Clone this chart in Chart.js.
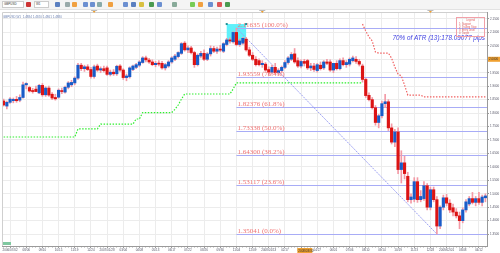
<!DOCTYPE html>
<html>
<head>
<meta charset="utf-8">
<script src="https://cdn.jsdelivr.net/npm/chart.js@4.4.1/dist/chart.umd.min.js"></script>
<style>
  html, body { margin: 0; padding: 0; background: #fff; }
  #wrap { position: relative; width: 500px; height: 253px; overflow: hidden; font-family: "Liberation Sans", Arial, sans-serif; }
  canvas { position: absolute; left: 0; top: 0; }
  #bar { position: absolute; left: 0; top: 0; width: 500px; height: 9px; background: #f4f4f4; border-bottom: 1px solid #e2e2e2; }
  #bar span { position: absolute; top: 2px; height: 5px; width: 5px; border-radius: 1px; }
  #bar .dd { background: #fff; border: 1px solid #ccc; top: 1px; height: 5px; font-size: 3px; line-height: 5px; color: #333; padding-left: 1px; border-radius: 0; }
</style>
</head>
<body>
<div id="wrap">
  <canvas id="chart" width="500" height="253"></canvas>
  <div id="bar">
    <span class="dd" style="left:2px;width:19px">GBPUSD</span>
    <span style="left:26px;background:#c33"></span>
    <span class="dd" style="left:34px;width:12px">W1</span>
    <span style="left:55px;background:#5a7fc0"></span>
    <span style="left:65px;background:#9aa"></span>
    <span style="left:72px;background:#f0a040"></span>
    <span style="left:83px;background:#6b8fd0"></span>
    <span style="left:90px;background:#6b8fd0"></span>
    <span style="left:97px;background:#8aa"></span>
    <span style="left:108px;background:#f0a040"></span>
    <span style="left:123px;background:#6b8fd0"></span>
    <span style="left:131px;background:#5a7fc0"></span>
    <span style="left:139px;background:#d8c040"></span>
    <span style="left:149px;background:#4a9a50"></span>
    <span style="left:157px;background:#6b8fd0"></span>
    <span style="left:172px;background:#8a9"></span>
    <span style="left:190px;background:#7c5"></span>
    <span style="left:198px;background:#f0a040"></span>
    <span style="left:208px;background:#6b8fd0"></span>
    <span style="left:217px;background:#d55"></span>
    <span style="left:225px;background:#4a9a50"></span>
  </div>
</div>
<script>
// weekly GBPUSD candles
const candleOpen = [
  1.845,1.826,1.840,1.846,1.851,1.848,1.858,1.905,1.895,1.884,
  1.889,1.875,1.903,1.868,1.893,1.870,1.858,1.859,1.883,1.878,
  1.896,1.905,1.912,1.930,1.978,1.965,1.972,1.962,1.936,1.975,
  1.960,1.965,1.968,1.944,1.952,1.946,1.975,1.960,1.932,1.935,
  1.962,1.970,1.978,1.988,2.005,1.997,1.990,1.980,1.985,1.985,
  1.968,1.975,1.990,2.000,2.010,2.022,2.060,2.035,2.042,2.025,
  1.980,2.012,2.022,2.000,2.020,2.040,2.030,2.038,2.030,2.055,
  2.072,2.065,2.100,2.055,2.060,2.075,2.035,2.015,2.000,1.995,
  1.980,1.982,1.962,1.952,1.970,1.950,1.958,1.970,1.988,2.000,
  2.020,1.995,1.975,1.992,1.995,1.968,1.975,1.958,1.978,1.968,
  1.990,1.990,1.960,1.985,1.965,1.995,1.980,1.982,1.995,2.000,
  1.992,1.975,1.925,1.866,1.850,1.820,1.765,1.790,1.835,1.842,
  1.745,1.692,1.730,1.590,1.615,1.565,1.478,1.480,1.545,1.478,
  1.482,1.530,1.450,1.515,1.478,1.380,1.450,1.485,1.465,1.448,
  1.432,1.418,1.400,1.440,1.462,1.482,1.468,1.482,1.468,1.485
];
const candleHigh = [
  1.852,1.845,1.858,1.856,1.862,1.868,1.915,1.913,1.900,1.892,
  1.900,1.907,1.910,1.898,1.900,1.876,1.870,1.890,1.893,1.900,
  1.917,1.922,1.935,1.985,1.985,1.978,1.980,1.970,1.978,1.982,
  1.972,1.975,1.975,1.960,1.962,1.978,1.980,1.965,1.945,1.972,
  1.978,1.985,1.995,2.010,2.012,2.004,1.998,1.992,1.995,1.992,
  1.985,1.995,2.010,2.018,2.028,2.062,2.066,2.050,2.048,2.030,
  2.020,2.030,2.035,2.025,2.050,2.048,2.045,2.052,2.062,2.078,
  2.080,2.102,2.11635,2.075,2.082,2.082,2.045,2.025,2.010,2.002,
  1.995,1.988,1.972,1.978,1.985,1.965,1.975,1.995,2.010,2.025,
  2.040,2.005,1.998,2.000,2.000,1.985,1.985,1.985,1.990,1.995,
  2.000,1.998,1.985,1.995,2.002,2.005,1.995,2.005,2.012,2.010,
  2.000,1.982,1.930,1.875,1.858,1.828,1.795,1.845,1.870,1.850,
  1.760,1.740,1.745,1.660,1.640,1.580,1.500,1.560,1.560,1.512,
  1.545,1.538,1.525,1.525,1.490,1.455,1.495,1.498,1.478,1.462,
  1.445,1.432,1.448,1.478,1.490,1.505,1.490,1.505,1.495,1.500
];
const candleLow = [
  1.826,1.815,1.836,1.838,1.840,1.842,1.855,1.890,1.878,1.874,
  1.880,1.872,1.862,1.862,1.862,1.850,1.848,1.855,1.872,1.874,
  1.890,1.898,1.905,1.925,1.958,1.955,1.958,1.930,1.930,1.955,
  1.950,1.952,1.940,1.938,1.940,1.940,1.955,1.925,1.920,1.930,
  1.958,1.965,1.972,1.985,1.990,1.985,1.976,1.972,1.975,1.963,
  1.960,1.970,1.985,1.995,2.005,2.018,2.030,2.025,2.020,1.970,
  1.975,2.005,1.995,1.995,2.012,2.025,2.022,2.028,2.025,2.050,
  2.060,2.060,2.050,2.048,2.055,2.030,2.010,1.995,1.975,1.975,
  1.970,1.955,1.940,1.945,1.945,1.940,1.950,1.965,1.982,1.995,
  1.985,1.970,1.968,1.975,1.962,1.958,1.955,1.952,1.960,1.962,
  1.980,1.955,1.950,1.960,1.960,1.975,1.970,1.975,1.990,1.985,
  1.975,1.915,1.858,1.845,1.815,1.755,1.745,1.782,1.820,1.735,
  1.685,1.675,1.575,1.540,1.555,1.470,1.465,1.470,1.468,1.470,
  1.475,1.440,1.440,1.470,1.35041,1.370,1.440,1.455,1.430,1.418,
  1.410,1.370,1.392,1.432,1.455,1.462,1.455,1.460,1.455,1.470
];
const candleClose = [
  1.830,1.840,1.852,1.851,1.846,1.858,1.905,1.910,1.882,1.880,
  1.880,1.903,1.868,1.893,1.867,1.856,1.853,1.885,1.880,1.896,
  1.912,1.914,1.930,1.978,1.965,1.972,1.962,1.936,1.972,1.960,
  1.965,1.958,1.944,1.952,1.946,1.974,1.960,1.932,1.938,1.968,
  1.975,1.980,1.990,2.005,1.998,1.990,1.980,1.985,1.982,1.968,
  1.980,1.990,2.005,2.012,2.025,2.058,2.035,2.042,2.025,1.980,
  2.015,2.022,2.000,2.020,2.040,2.030,2.038,2.034,2.058,2.072,
  2.068,2.100,2.055,2.068,2.078,2.035,2.015,2.000,1.980,1.980,
  1.985,1.960,1.952,1.970,1.950,1.958,1.970,1.988,2.005,2.018,
  1.990,1.975,1.992,1.985,1.968,1.975,1.962,1.980,1.965,1.990,
  1.985,1.960,1.985,1.965,1.995,1.980,1.988,2.000,2.005,1.992,
  1.982,1.925,1.865,1.850,1.820,1.765,1.790,1.835,1.842,1.745,
  1.692,1.730,1.590,1.615,1.575,1.478,1.488,1.545,1.478,1.490,
  1.530,1.450,1.515,1.478,1.380,1.450,1.485,1.465,1.440,1.432,
  1.418,1.400,1.440,1.470,1.482,1.468,1.482,1.468,1.488,1.492
];

// green support line (ends where price breaks it)
const supportLine = [
  1.711,1.711,1.711,1.711,1.711,1.711,1.711,1.711,1.711,1.711,
  1.711,1.711,1.711,1.711,1.711,1.711,1.711,1.711,1.711,1.711,
  1.711,1.711,1.711,1.741,1.741,1.741,1.741,1.741,1.741,1.741,
  1.759,1.759,1.759,1.759,1.759,1.759,1.759,1.759,1.759,1.759,
  1.759,1.778,1.778,1.802,1.802,1.802,1.802,1.802,1.802,1.802,
  1.802,1.802,1.802,1.814,1.830,1.852,1.871,1.871,1.871,1.871,
  1.871,1.871,1.871,1.871,1.871,1.871,1.871,1.871,1.871,1.871,
  1.871,1.890,1.912,1.912,1.912,1.912,1.912,1.912,1.912,1.912,
  1.912,1.912,1.912,1.912,1.912,1.912,1.912,1.912,1.912,1.912,
  1.912,1.912,1.912,1.912,1.912,1.912,1.912,1.912,1.912,1.912,
  1.912,1.912,1.912,1.912,1.912,1.912,1.912,1.912,1.912,1.912,
  1.912,1.912,null,null,null,null,null,null,null,null,
  null,null,null,null,null,null,null,null,null,null,
  null,null,null,null,null,null,null,null,null,null,
  null,null,null,null,null,null,null,null,null,null
];
// red trailing stop after the break
const trailingStop = [
  2.131,2.105,2.083,2.068,2.027,2.023,2.023,2.023,2.023,2.004,
  1.971,1.945,1.938,1.904,1.867,1.867,1.867,1.867,1.867,1.860,
  1.860,1.860,1.860,1.860,1.860,1.860,1.860,1.860,1.860,1.860,
  1.860,1.860,1.860,1.860,1.860,1.860,1.860,1.860,1.860
];
const stopStart = 111;

const fibLevels = [2.11635, 1.93559, 1.82376, 1.73338, 1.64300, 1.53117, 1.35041];
const fibPercents = ['100.0%', '76.4%', '61.8%', '50.0%', '38.2%', '23.6%', '0.0%'];
const swingHighIndex = 72;
const swingLowIndex = 134;

const fibBox = { from: 69, to: 75, top: 2.131, bottom: 2.064 };
const yearMarks = [{ index: 28, text: '2007' }, { index: 80, text: '2008' }, { index: 132, text: '2009' }];
const crosshair = { index: 93, price: 2.0 };
const atrText = '70% of ATR (13):178.09077 pips';
const legendLines = ['1: Support', '2: Trailing Stop', '3: Entry Level', '4: Target'];
const headerText = 'GBPUSD,W1  1.4884 1.4920 1.4861 1.4880';

const firstWeek = Date.UTC(2006, 5, 18);
const weeks = candleClose.map((_, i) => {
  const d = new Date(firstWeek + i * 7 * 86400000);
  return d.toISOString().slice(0, 10).replace(/-/g, '/');
});

const UP = '#1a5cc8';
const DOWN = '#dc1414';
const WICK = '#f39aa6';

const stopData = weeks.map((_, i) => (i >= stopStart ? trailingStop[i - stopStart] : null));
const diagData = weeks.map((_, i) =>
  i === swingHighIndex ? fibLevels[0] : i === swingLowIndex ? fibLevels[fibLevels.length - 1] : null);

function isMajor(i) {
  return i >= 2 && (i - 2) % 5 === 0;
}

const overlays = {
  id: 'overlays',
  beforeDatasetsDraw(chart) {
    const { ctx, chartArea: a, scales: { x, y } } = chart;
    ctx.save();
    // fib box
    const bx0 = x.getPixelForValue(fibBox.from), bx1 = x.getPixelForValue(fibBox.to);
    const by0 = y.getPixelForValue(fibBox.top), by1 = y.getPixelForValue(fibBox.bottom);
    ctx.fillStyle = '#5ff0fa';
    ctx.fillRect(bx0, by0, bx1 - bx0, by1 - by0);
    ctx.fillStyle = '#1a8f96';
    [[bx0, by0], [bx1, by0], [bx0, by1], [bx1, by1]].forEach(p => ctx.fillRect(p[0] - 1, p[1] - 1, 2, 2));
    // fib levels
    const fx = x.getPixelForValue(swingHighIndex);
    ctx.strokeStyle = '#a8acf6';
    ctx.lineWidth = 1;
    fibLevels.forEach(v => {
      const py = Math.round(y.getPixelForValue(v)) + 0.5;
      ctx.beginPath();
      ctx.moveTo(fx, py);
      ctx.lineTo(a.right, py);
      ctx.stroke();
    });
    ctx.restore();
  },
  afterDatasetsDraw(chart) {
    const { ctx, chartArea: a, scales: { x, y } } = chart;
    ctx.save();
    // fib labels
    const fx = x.getPixelForValue(swingHighIndex);
    ctx.font = "7px 'Liberation Serif'";
    ctx.fillStyle = '#f07474';
    ctx.textBaseline = 'alphabetic';
    fibLevels.forEach((v, k) => {
      ctx.fillText(v.toFixed(5) + ' (' + fibPercents[k] + ')', fx + 1, Math.round(y.getPixelForValue(v)) - 1);
    });
    // ATR note
    ctx.font = "italic 6.4px 'Liberation Sans'";
    ctx.fillStyle = '#3d3ee0';
    ctx.textAlign = 'right';
    ctx.fillText(atrText, a.right - 2, a.top + 28);
    // legend box
    ctx.strokeStyle = '#f2a0a8';
    ctx.strokeRect(456.5, 17.5, 28, 19);
    ctx.font = "2.6px 'Liberation Sans'";
    ctx.fillStyle = '#e06060';
    ctx.textAlign = 'center';
    ctx.fillText('Legend', 470.5, 21);
    ctx.textAlign = 'left';
    legendLines.forEach((t, k) => ctx.fillText(t, 459, 24.5 + k * 3));
    // header text
    ctx.font = "3px 'Liberation Sans'";
    ctx.fillStyle = '#6a7fb0';
    ctx.fillText(headerText, a.left + 1, a.top + 6);
    // frame (top and left)
    ctx.strokeStyle = '#cfcfcf';
    ctx.beginPath();
    ctx.moveTo(a.left + 0.5, a.bottom);
    ctx.lineTo(a.left + 0.5, a.top + 0.5);
    ctx.lineTo(a.right, a.top + 0.5);
    ctx.stroke();
    // year marks on the time strip
    yearMarks.forEach(m => {
      const px = x.getPixelForValue(m.index);
      ctx.fillStyle = '#bbb';
      ctx.fillRect(px - 3, a.top - 4, 6, 3);
      ctx.fillStyle = '#f0a030';
      ctx.beginPath();
      ctx.moveTo(px - 1.5, a.top - 1);
      ctx.lineTo(px + 1.5, a.top - 1);
      ctx.lineTo(px, a.top + 1);
      ctx.fill();
    });
    // crosshair tags
    const cy = y.getPixelForValue(crosshair.price);
    ctx.fillStyle = '#f0a030';
    ctx.fillRect(a.right + 1, cy - 2.5, 12, 5);
    const cx = x.getPixelForValue(crosshair.index);
    ctx.fillRect(cx - 7, a.bottom + 2, 15, 5);
    ctx.fillStyle = '#333';
    ctx.font = "3px 'Liberation Sans'";
    ctx.fillText(crosshair.price.toFixed(4), a.right + 2, cy + 1);
    ctx.fillText(weeks[crosshair.index], cx - 6, a.bottom + 5.5);
    // small label bottom-left
    ctx.fillStyle = '#7fc8a0';
    ctx.fillRect(a.left + 1, a.bottom - 4, 8, 3);
    ctx.restore();
  }
};

new Chart(document.getElementById('chart'), {
  type: 'bar',
  data: {
    labels: weeks,
    datasets: [
      {
        type: 'line',
        data: supportLine,
        borderColor: '#2fee2f',
        borderWidth: 1.2,
        borderDash: [1.5, 1.5],
        pointRadius: 0,
        order: 0
      },
      {
        type: 'line',
        data: stopData,
        borderColor: '#f06262',
        borderWidth: 1.2,
        borderDash: [1.5, 1.5],
        pointRadius: 0,
        order: 0
      },
      {
        type: 'line',
        data: diagData,
        spanGaps: true,
        borderColor: '#9ca0f2',
        borderWidth: 1,
        borderDash: [2, 1],
        pointRadius: 0,
        order: 3
      },
      {
        data: candleLow.map((l, i) => [l, candleHigh[i]]),
        backgroundColor: WICK,
        barThickness: 1,
        grouped: false,
        order: 2
      },
      {
        data: candleOpen.map((o, i) => [o, candleClose[i]]),
        backgroundColor: candleOpen.map((o, i) => (candleClose[i] >= o ? UP : DOWN)),
        barThickness: 2.5,
        minBarLength: 1,
        grouped: false,
        order: 1
      }
    ]
  },
  options: {
    responsive: false,
    animation: false,
    events: [],
    layout: { padding: { left: 2, top: 12, right: 0, bottom: 0 } },
    plugins: { legend: { display: false }, tooltip: { enabled: false } },
    scales: {
      x: {
        offset: true,
        grid: {
          offset: false,
          color: c => (isMajor(c.index) ? '#ececec' : 'rgba(0,0,0,0)'),
          tickColor: c => (isMajor(c.index) ? '#999' : '#d4d4d4'),
          tickLength: 2
        },
        border: { color: '#9a9a9a' },
        ticks: {
          autoSkip: false,
          maxRotation: 0,
          padding: 0,
          color: '#556',
          font: { size: 3, family: 'Liberation Sans' },
          callback: (v, i) => {
            if (!isMajor(i)) return '';
            const lab = weeks[i];
            if (i < 7 || weeks[i - 5].slice(0, 4) !== lab.slice(0, 4)) return lab;
            return lab.slice(5);
          }
        },
        afterFit: s => { s.height = 7; }
      },
      y: {
        position: 'right',
        min: 1.3058,
        max: 2.1758,
        grid: { color: '#ececec', tickColor: '#999', tickLength: 2 },
        border: { color: '#9a9a9a' },
        ticks: {
          stepSize: 0.05,
          includeBounds: false,
          padding: 1,
          color: '#556',
          font: { size: 3, family: 'Liberation Sans' },
          callback: v => v.toFixed(4)
        },
        afterFit: s => { s.width = 13; }
      }
    }
  },
  plugins: [overlays]
});
</script>
</body>
</html>
